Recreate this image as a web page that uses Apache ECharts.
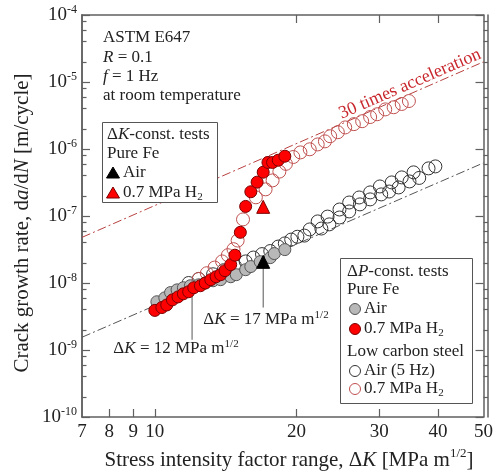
<!DOCTYPE html>
<html>
<head>
<meta charset="utf-8">
<script src="https://cdn.jsdelivr.net/npm/echarts@6/dist/echarts.min.js"></script>
<style>
html, body { margin: 0; padding: 0; background: #fff; }
#chart { width: 496px; height: 472px; }
</style>
</head>
<body>
<div id="chart"></div>
<script>
var serif = '"Liberation Serif", "Times New Roman", serif';

// axis ticks / labels
var xLabels = [7, 8, 9, 10, 20, 30, 40, 50];
var xTicks = [8, 9, 10, 20, 30, 40];
var xTopTicks = [20, 30, 40];
var yDecades = [1e-10, 1e-9, 1e-8, 1e-7, 1e-6, 1e-5, 1e-4];
var yMinorSteps = [2, 4, 6, 8];

// dP-const. tests, pure Fe, air (grey filled)
var feAir = [[10.1, 5.25e-9], [10.5, 6.0e-9], [10.8, 7.2e-9], [11.15, 7.9e-9], [11.5, 8.5e-9],
  [11.9, 9.1e-9], [12.4, 9.4e-9], [12.8, 1.0e-8], [13.3, 1.08e-8], [13.8, 1.12e-8],
  [14.5, 1.24e-8], [14.9, 1.33e-8], [15.6, 1.58e-8], [16.0, 1.76e-8], [16.75, 2.08e-8],
  [17.6, 2.39e-8], [17.95, 2.75e-8], [18.9, 3.15e-8]];
// dP-const. tests, pure Fe, 0.7 MPa H2 (red filled)
var feH2 = [[10.0, 3.9e-9], [10.35, 4.3e-9], [10.6, 4.7e-9], [10.9, 5.6e-9], [11.2, 6.2e-9],
  [11.5, 6.9e-9], [11.8, 7.4e-9], [12.1, 8.5e-9], [12.5, 9.1e-9], [12.8, 1.0e-8],
  [13.15, 1.12e-8], [13.5, 1.24e-8], [13.8, 1.33e-8], [14.1, 1.53e-8], [14.5, 1.88e-8],
  [14.8, 2.6e-8], [15.2, 5.7e-8], [15.6, 1.39e-7], [16.0, 2.3e-7], [16.5, 3.2e-7],
  [17.0, 4.5e-7], [17.4, 6.3e-7], [17.8, 6.3e-7], [18.3, 6.8e-7], [18.9, 7.8e-7]];
// low carbon steel, air 5 Hz (open black)
var lcsAir = [[11.8, 1.0e-8], [12.4, 1.15e-8], [13.3, 1.35e-8], [14.0, 1.55e-8], [14.8, 1.8e-8],
  [15.6, 2.1e-8], [16.2, 2.4e-8], [16.9, 2.7e-8], [17.6, 3.0e-8], [18.3, 3.5e-8],
  [18.9, 3.9e-8], [19.5, 4.45e-8], [20.1, 4.9e-8], [20.8, 5.1e-8], [21.35, 6.3e-8],
  [22.2, 8.3e-8], [22.6, 6.5e-8], [23.3, 9.8e-8], [23.5, 7.5e-8], [24.7, 1.25e-7],
  [24.7, 9.5e-8], [25.9, 1.59e-7], [25.9, 1.17e-7], [27.2, 1.89e-7], [27.3, 1.49e-7],
  [28.7, 2.25e-7], [28.7, 1.77e-7], [30.1, 2.76e-7], [30.3, 2.1e-7], [31.5, 2.32e-7],
  [31.9, 3.17e-7], [33.0, 2.67e-7], [33.5, 3.77e-7], [34.8, 3.28e-7], [35.5, 4.48e-7],
  [36.5, 3.7e-7], [38.2, 5.14e-7], [39.5, 5.5e-7]];
// low carbon steel, 0.7 MPa H2 (open red)
var lcsH2 = [[12.4, 1.15e-8], [12.9, 1.4e-8], [13.4, 1.7e-8], [13.9, 2.1e-8], [14.3, 2.6e-8],
  [14.7, 3.2e-8], [15.0, 4.3e-8], [15.4, 8.9e-8], [16.4, 1.9e-7], [17.2, 2.5e-7],
  [17.8, 3.4e-7], [18.4, 4.6e-7], [19.0, 6.0e-7], [19.7, 7.6e-7], [20.4, 8.9e-7],
  [21.35, 9.9e-7], [22.2, 1.17e-6], [23.0, 1.3e-6], [23.6, 1.55e-6], [24.5, 1.78e-6],
  [25.4, 2.1e-6], [26.5, 2.35e-6], [27.6, 2.6e-6], [28.7, 3.0e-6], [29.7, 3.3e-6],
  [30.9, 3.9e-6], [32.2, 4.2e-6], [33.5, 4.7e-6], [34.7, 5.2e-6]];
// dK-const. tests
var constAir = [[17, 2.07e-8]];
var constH2 = [[17, 1.37e-7]];
// trend lines
var trendAir = [[7, 1.55e-9], [50, 6.2e-7]];
var trend30 = [[7, 4.8e-8], [50, 2.0e-5]];
var lead12 = [[12, 6.7e-9], [12, 1.42e-9]];
var lead17 = [[17, 1.7e-8], [17, 4.3e-9]];

var yMinor = [];
yDecades.slice(0, -1).forEach(function (d) {
  yMinorSteps.forEach(function (m) { yMinor.push(m * d); });
});

var myChart = echarts.init(document.getElementById('chart'));

var frame = '#606060';
var grid = { left: 82, right: 8, top: 15, bottom: 55 };

var rich = {
  i: { fontFamily: serif, fontStyle: 'italic', fontSize: 17, lineHeight: 20, color: '#222' },
  sup: { fontFamily: serif, fontSize: 11, lineHeight: 11, verticalAlign: 'top', color: '#222' },
  sub: { fontFamily: serif, fontSize: 11, lineHeight: 11, verticalAlign: 'bottom', color: '#222' }
};
var richBig = {
  i: { fontFamily: serif, fontStyle: 'italic', fontSize: 21, lineHeight: 25, color: '#222' },
  sup: { fontFamily: serif, fontSize: 13, lineHeight: 13, verticalAlign: 'top', color: '#222' }
};

function txt(x, y, text, opt) {
  opt = opt || {};
  return {
    type: 'text', x: x, y: y, z: 100, rotation: opt.rotation || 0,
    style: {
      text: text, fill: opt.color || '#222', fontFamily: serif,
      fontSize: opt.size || 17, lineHeight: opt.lh || 20,
      align: opt.align || 'left', verticalAlign: 'middle',
      rich: opt.rich || rich
    }
  };
}
function dot(cx, cy, fill, stroke) {
  return { type: 'circle', z: 100, shape: { cx: cx, cy: cy, r: 5.5 },
    style: { fill: fill, stroke: stroke, lineWidth: 1 } };
}
function tri(cx, cy, fill, stroke) {
  return { type: 'polygon', z: 100,
    shape: { points: [[cx, cy - 6], [cx + 6.5, cy + 5], [cx - 6.5, cy + 5]] },
    style: { fill: fill, stroke: stroke, lineWidth: 1 } };
}

function logY(gridIndex, pos, ticks, len, labels) {
  return {
    type: 'log', logBase: 10, gridIndex: gridIndex, position: pos,
    min: 1e-10, max: 1e-4,
    axisLine: { show: true, lineStyle: { color: frame, width: 1.5 } },
    axisTick: { show: true, inside: true, length: len, customValues: ticks,
      lineStyle: { color: frame, width: 1.2 } },
    axisLabel: labels ? {
      customValues: yDecades, margin: 5, color: '#222', fontFamily: serif,
      fontSize: 19, lineHeight: 22,
      formatter: function (v) { return '10{sup|' + Math.round(Math.log10(v)) + '}'; },
      rich: { sup: { fontFamily: serif, fontSize: 12, lineHeight: 12, verticalAlign: 'top', color: '#222' } }
    } : { show: false },
    splitLine: { show: false }
  };
}

function scatter(name, data, symbol, size, fill, stroke, z) {
  return {
    name: name, type: 'scatter', data: data, symbol: symbol, symbolSize: size, z: z,
    itemStyle: { color: fill, borderColor: stroke, borderWidth: 1, opacity: 1 },
    emphasis: { disabled: true }
  };
}
function line(data, color, type) {
  return {
    type: 'line', data: data, symbol: 'none', z: 1, silent: true,
    lineStyle: { color: color, width: 1, type: type }
  };
}

var option = {
  animation: false,
  grid: [grid, grid],
  xAxis: [
    {
      type: 'log', logBase: 10, gridIndex: 0, position: 'bottom', min: 7, max: 50,
      axisLine: { show: true, lineStyle: { color: frame, width: 1.5 } },
      axisTick: { inside: true, length: 8, customValues: xTicks, lineStyle: { color: frame, width: 1.2 } },
      axisLabel: { customValues: xLabels, margin: 6, color: '#222', fontFamily: serif, fontSize: 19 },
      splitLine: { show: false }
    },
    {
      type: 'log', logBase: 10, gridIndex: 0, position: 'top', min: 7, max: 50,
      axisLine: { show: true, lineStyle: { color: frame, width: 1.5 } },
      axisTick: { inside: true, length: 8, customValues: xTopTicks, lineStyle: { color: frame, width: 1.2 } },
      axisLabel: { show: false },
      splitLine: { show: false }
    },
    { type: 'log', gridIndex: 1, min: 7, max: 50, show: false }
  ],
  yAxis: [
    logY(0, 'left', yDecades, 8, true),
    logY(0, 'right', yDecades, 8, false),
    logY(1, 'left', yMinor, 4.5, false),
    logY(1, 'right', yMinor, 4.5, false)
  ],
  series: [
    line(trendAir, '#555', [9, 3, 2, 3]),
    line(trend30, '#b84040', [9, 3, 2, 3]),
    line(lead12, '#555', 'solid'),
    line(lead17, '#555', 'solid'),
    scatter('LCS Air', lcsAir, 'circle', 13, 'rgba(0,0,0,0)', '#333', 3),
    scatter('LCS H2', lcsH2, 'circle', 13, 'rgba(0,0,0,0)', '#c05050', 3),
    scatter('Fe Air', feAir, 'circle', 12, '#b8b8b8', '#555', 4),
    scatter('Fe H2', feH2, 'circle', 12, '#ff0000', '#7a0000', 5),
    scatter('dK Air', constAir, 'triangle', 13, '#000', '#000', 6),
    scatter('dK H2', constH2, 'triangle', 13, '#ff0000', '#7a0000', 6)
  ],
  graphic: [
    // conditions
    txt(103, 38, 'ASTM E647'),
    txt(103, 58, '{i|R} = 0.1'),
    txt(103, 77, '{i|f} = 1 Hz'),
    txt(103, 96, 'at room temperature'),
    // dK-const. legend
    { type: 'rect', z: 99, shape: { x: 102.5, y: 122.5, width: 115, height: 80 },
      style: { fill: '#fff', stroke: '#555', lineWidth: 1 } },
    txt(107, 135, 'Δ{i|K}-const. tests'),
    txt(107, 154, 'Pure Fe'),
    tri(113, 173, '#000', '#000'),
    txt(123, 173, 'Air'),
    tri(113, 193, '#ff0000', '#7a0000'),
    txt(123, 193, '0.7 MPa H{sub|2}'),
    // dP-const. legend
    { type: 'rect', z: 99, shape: { x: 340.5, y: 258.5, width: 132, height: 145 },
      style: { fill: '#fff', stroke: '#555', lineWidth: 1 } },
    txt(347, 272, 'Δ{i|P}-const. tests'),
    txt(347, 290, 'Pure Fe'),
    dot(355, 309, '#b8b8b8', '#555'),
    txt(364, 309, 'Air'),
    dot(355, 329, '#ff0000', '#7a0000'),
    txt(364, 329, '0.7 MPa H{sub|2}'),
    txt(347, 352, 'Low carbon steel'),
    dot(355, 371, 'none', '#333'),
    txt(364, 371, 'Air (5 Hz)'),
    dot(355, 389, 'none', '#c05050'),
    txt(364, 389, '0.7 MPa H{sub|2}'),
    // annotations
    txt(176, 349, 'Δ{i|K} = 12 MPa m{sup|1/2}', { align: 'center' }),
    txt(266, 320, 'Δ{i|K} = 17 MPa m{sup|1/2}', { align: 'center' }),
    txt(410, 84, '30 times acceleration', { align: 'center', size: 18, color: '#c8282d', rotation: 0.41 }),
    // axis titles
    txt(22, 223, 'Crack growth rate, d{i|a}/d{i|N} [m/cycle]',
      { align: 'center', size: 21, lh: 25, rich: richBig, rotation: Math.PI / 2 }),
    txt(289, 460, 'Stress intensity factor range, Δ{i|K} [MPa m{sup|1/2}]',
      { align: 'center', size: 21, lh: 25, rich: richBig })
  ]
};
myChart.setOption(option);
</script>
</body>
</html>
